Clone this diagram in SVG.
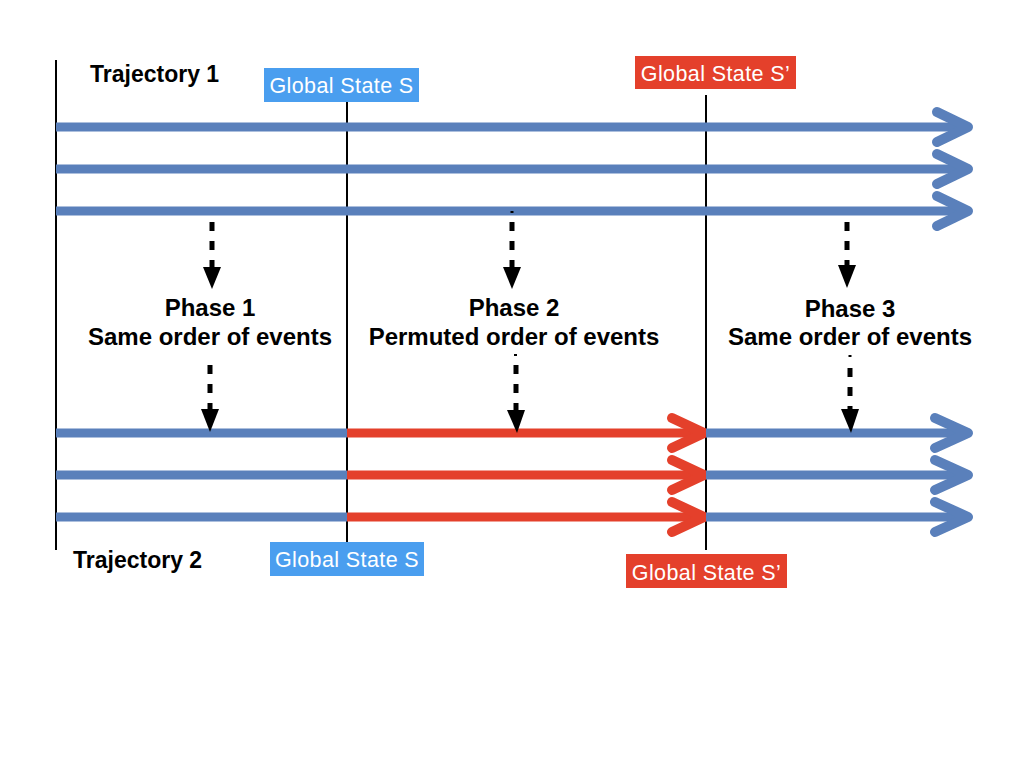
<svg xmlns="http://www.w3.org/2000/svg" width="1024" height="768" viewBox="0 0 1024 768">
<style>
.bl{stroke:#5A80BB;stroke-width:9;fill:none;stroke-linecap:butt}
.rd{stroke:#E4402B;stroke-width:9;fill:none;stroke-linecap:butt}
.blc{stroke:#5A80BB;stroke-width:10;fill:none;stroke-linecap:round;stroke-linejoin:round}
.rdc{stroke:#E4402B;stroke-width:10;fill:none;stroke-linecap:round;stroke-linejoin:round}
.vl{stroke:#000;stroke-width:2;fill:none}
.ds{stroke:#000;stroke-width:5;fill:none;stroke-dasharray:9 10}
.hd{fill:#000}
.lbl{font-family:"Liberation Sans",Arial,sans-serif;font-size:21.5px;letter-spacing:0.4px;fill:#fff}
.ttl{font-family:"Liberation Sans",Arial,sans-serif;font-size:23px;font-weight:bold;fill:#000}
.ph{font-family:"Liberation Sans",Arial,sans-serif;font-size:24px;font-weight:bold;fill:#000;text-anchor:middle}
</style>
<rect width="1024" height="768" fill="#fff"/>
<g id="connectors">
  <line class="vl" x1="56" y1="60" x2="56" y2="550"/>
  <line class="vl" x1="347" y1="102" x2="347" y2="542"/>
  <line class="vl" x1="706" y1="95" x2="706" y2="550"/>
  <g id="traj1">
    <path class="bl" d="M56 127H966"/><path class="blc" d="M937 112L968 127L937 142"/>
    <path class="bl" d="M56 169H966"/><path class="blc" d="M937 154L968 169L937 184"/>
    <path class="bl" d="M56 211H966"/><path class="blc" d="M937 196L968 211L937 226"/>
  </g>
  <g id="traj2">
    <path class="bl" d="M56 433H347"/>
    <path class="bl" d="M56 475H347"/>
    <path class="bl" d="M56 517H347"/>
    <path class="rd" d="M347 433H702"/><path class="rdc" d="M672 418L704 433L672 448"/>
    <path class="rd" d="M347 475H702"/><path class="rdc" d="M672 460L704 475L672 490"/>
    <path class="rd" d="M347 517H702"/><path class="rdc" d="M672 502L704 517L672 532"/>
    <path class="bl" d="M706 433H966"/><path class="blc" d="M935 418L968 433L935 448"/>
    <path class="bl" d="M706 475H966"/><path class="blc" d="M935 460L968 475L935 490"/>
    <path class="bl" d="M706 517H966"/><path class="blc" d="M935 502L968 517L935 532"/>
  </g>
  <g id="dashed-arrows">
    <line class="ds" x1="212" y1="222" x2="212" y2="268"/>
    <polygon class="hd" points="203,267 221,267 212,289"/>
    <line class="ds" x1="210" y1="365" x2="210" y2="410"/>
    <polygon class="hd" points="201,409 219,409 210,432"/>
    <rect class="hd" x="510.5" y="211" width="3" height="2"/>
    <line class="ds" x1="512" y1="222" x2="512" y2="268"/>
    <polygon class="hd" points="503,267 521,267 512,289"/>
    <rect class="hd" x="514" y="354" width="3" height="2"/>
    <line class="ds" x1="516" y1="365" x2="516" y2="410"/>
    <polygon class="hd" points="507,410 525,410 517,433"/>
    <line class="ds" x1="847" y1="222" x2="847" y2="266"/>
    <polygon class="hd" points="838,265 856,265 847,288"/>
    <rect class="hd" x="848.5" y="355" width="3" height="2"/>
    <line class="ds" x1="850" y1="368" x2="850" y2="410"/>
    <polygon class="hd" points="841,409 859,409 851,433"/>
  </g>
</g>
<g id="label-traj1"><text class="ttl" x="90" y="82">Trajectory 1</text></g>
<g id="label-traj2"><text class="ttl" x="73" y="568">Trajectory 2</text></g>
<g id="state-s-top">
  <rect x="264" y="68" width="155" height="34" fill="#4A9EEF"/>
  <text class="lbl" x="341.5" y="93" text-anchor="middle">Global State S</text>
</g>
<g id="state-s2-top">
  <rect x="635" y="56" width="161" height="33" fill="#E4402B"/>
  <text class="lbl" x="715.5" y="81" text-anchor="middle">Global State S’</text>
</g>
<g id="state-s-bottom">
  <rect x="270" y="542" width="154" height="34" fill="#4A9EEF"/>
  <text class="lbl" x="347" y="567" text-anchor="middle">Global State S</text>
</g>
<g id="state-s2-bottom">
  <rect x="626" y="554" width="161" height="34" fill="#E4402B"/>
  <text class="lbl" x="706.5" y="580" text-anchor="middle">Global State S’</text>
</g>
<g id="phase1">
  <text class="ph" x="210" y="316">Phase 1</text>
  <text class="ph" x="210" y="345">Same order of events</text>
</g>
<g id="phase2">
  <text class="ph" x="514" y="316">Phase 2</text>
  <text class="ph" x="514" y="345">Permuted order of events</text>
</g>
<g id="phase3">
  <text class="ph" x="850" y="317">Phase 3</text>
  <text class="ph" x="850" y="345">Same order of events</text>
</g>
</svg>
